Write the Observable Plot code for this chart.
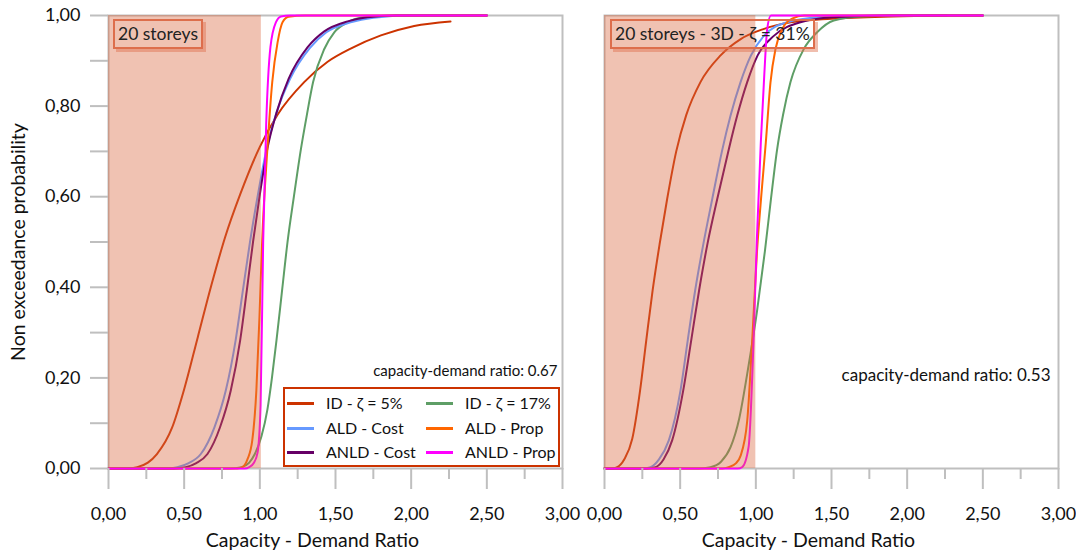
<!DOCTYPE html>
<html><head><meta charset="utf-8">
<script src="https://cdn.jsdelivr.net/npm/d3@7"></script>
<script src="https://cdn.jsdelivr.net/npm/@observablehq/plot@0.6"></script>
<style>
body{margin:0;background:#fff;font-family:Lato, sans-serif;}
#wrap{position:relative;width:1076px;height:553px;overflow:hidden;background:#fff;}
.panel{position:absolute;top:0;}
.tbox{position:absolute;border:2px solid #dd6e4c;box-shadow:3px 3px 0 rgba(221,110,76,0.45);font-size:17.5px;color:#222;padding:0 3px;line-height:25px;white-space:nowrap;box-sizing:border-box;height:30px;}
.legend{position:absolute;left:283px;top:387px;width:277px;height:80px;border:2px solid #cc3300;background:#fff;font-size:16px;color:#111;box-sizing:border-box;}
.li{position:absolute;white-space:nowrap;line-height:20px;}
.sw{display:inline-block;width:27px;height:3px;vertical-align:middle;margin-right:12px;position:relative;top:-1px;}
</style></head>
<body>
<div id="wrap"></div>
<script>
// ---- series ----
const seriesNames = ["ID - ζ = 5%", "ID - ζ = 17%", "ALD - Cost", "ALD - Prop", "ANLD - Cost", "ANLD - Prop"];
const seriesColors = ["#cc3300", "#5e9e66", "#6699ff", "#ff6600", "#660066", "#ff00ff"];
const drawOrder = ["ID - ζ = 5%", "ID - ζ = 17%", "ALD - Cost", "ANLD - Cost", "ALD - Prop", "ANLD - Prop"];

// ---- left panel: 20 storeys ----
const leftID5 = [[0,0],[0.12,0],[0.19,0.003],[0.26,0.013],[0.32,0.032],[0.42,0.09],[0.50,0.175],[0.59,0.29],[0.68,0.405],[0.77,0.51],[0.87,0.605],[1.0,0.71],[1.117,0.781],[1.293,0.853],[1.448,0.898],[1.60,0.927],[1.80,0.956],[2.02,0.977],[2.26,0.987]];
const leftID17 = [[0,0],[0.8,0],[0.88,0.003],[0.93,0.013],[0.967,0.032],[1.01,0.07],[1.05,0.13],[1.08,0.2],[1.11,0.283],[1.147,0.393],[1.183,0.5],[1.225,0.6],[1.272,0.706],[1.31,0.779],[1.352,0.853],[1.426,0.926],[1.492,0.963],[1.58,0.985],[1.69,0.996],[1.9,1],[2.5,1]];
const leftALDCost = [[0,0],[0.38,0],[0.455,0.003],[0.53,0.012],[0.61,0.032],[0.70,0.091],[0.775,0.172],[0.84,0.283],[0.888,0.393],[0.935,0.5],[0.985,0.6],[1.045,0.706],[1.11,0.785],[1.2,0.86],[1.33,0.928],[1.44,0.963],[1.6,0.985],[1.75,0.995],[2.0,1],[2.5,1]];
const leftANLDCost = [[0,0],[0.43,0],[0.51,0.003],[0.58,0.012],[0.654,0.032],[0.737,0.091],[0.808,0.172],[0.87,0.283],[0.914,0.393],[0.955,0.5],[0.998,0.6],[1.05,0.706],[1.11,0.785],[1.19,0.86],[1.316,0.93],[1.426,0.965],[1.58,0.987],[1.71,0.996],[1.9,1],[2.5,1]];
const leftALDProp = [[0,0],[0.85,0],[0.885,0.003],[0.918,0.02],[0.95,0.062],[0.977,0.172],[0.997,0.33],[1.015,0.5],[1.05,0.706],[1.082,0.853],[1.117,0.94],[1.15,0.985],[1.19,0.997],[1.3,1],[2.5,1]];
const leftANLDProp = [[0,0],[0.9,0],[0.93,0.003],[0.96,0.012],[0.985,0.035],[1.005,0.14],[1.022,0.5],[1.042,0.76],[1.07,0.93],[1.106,0.985],[1.14,0.998],[1.2,1],[2.5,1]];

// ---- right panel: 20 storeys - 3D ----
const rightID5 = [[0,0],[0.05,0],[0.084,0.003],[0.13,0.02],[0.183,0.065],[0.235,0.172],[0.276,0.283],[0.318,0.393],[0.364,0.495],[0.414,0.595],[0.474,0.7],[0.54,0.78],[0.634,0.853],[0.767,0.912],[0.90,0.948],[1.05,0.97],[1.23,0.985],[1.5,0.993],[1.9,0.998],[2.26,1]];
const rightID17 = [[0,0],[0.62,0],[0.70,0.003],[0.77,0.015],[0.833,0.047],[0.89,0.11],[0.943,0.209],[1.009,0.35],[1.06,0.48],[1.10,0.595],[1.14,0.703],[1.18,0.781],[1.229,0.853],[1.317,0.926],[1.405,0.963],[1.515,0.989],[1.7,0.998],[2.0,1],[2.5,1]];
const rightALDCost = [[0,0],[0.25,0],[0.304,0.003],[0.36,0.02],[0.425,0.062],[0.502,0.172],[0.55,0.283],[0.599,0.393],[0.654,0.497],[0.712,0.595],[0.776,0.7],[0.833,0.779],[0.899,0.853],[0.968,0.912],[1.053,0.955],[1.207,0.985],[1.42,0.996],[1.8,1],[2.5,1]];
const rightANLDCost = [[0,0],[0.28,0],[0.337,0.003],[0.39,0.02],[0.447,0.062],[0.52,0.172],[0.573,0.283],[0.625,0.393],[0.681,0.497],[0.745,0.595],[0.818,0.7],[0.877,0.779],[0.943,0.853],[1.012,0.912],[1.119,0.955],[1.295,0.985],[1.51,0.996],[1.9,1],[2.5,1]];
const rightALDProp = [[0,0],[0.78,0],[0.82,0.003],[0.87,0.012],[0.899,0.028],[0.943,0.105],[0.976,0.283],[1.008,0.48],[1.038,0.61],[1.066,0.72],[1.097,0.853],[1.13,0.926],[1.174,0.97],[1.24,0.993],[1.32,1],[2.5,1]];
const rightANLDProp = [[0,0],[0.88,0],[0.91,0.003],[0.952,0.047],[0.985,0.283],[1.006,0.5],[1.033,0.72],[1.056,0.87],[1.075,0.97],[1.10,1],[2.5,1]];

// ---- panel annotations ----
const panelTitles = ["20 storeys", "20 storeys - 3D - ζ = 31%"];
const capacityDemandRatio = [0.67, 0.53];
const shadeLimit = [1.01, 1.0];

// ---- ticks ----
const xMajor = [0, 0.5, 1, 1.5, 2, 2.5, 3];
const xMinor = [0.25, 0.75, 1.25, 1.75, 2.25, 2.75];
const yMajor = [0, 0.2, 0.4, 0.6, 0.8, 1];
const yMinor = [0.1, 0.3, 0.5, 0.7, 0.9];
const xLabel = "Capacity - Demand Ratio";
const yLabel = "Non exceedance probability";

const comma = d => d.toFixed(2).replace(".", ",");

function table(seriesData) {
  const rows = [];
  drawOrder.forEach(name => {
    seriesData[name].forEach(([x, p]) => rows.push({series: name, x, p}));
  });
  return rows;
}
const leftData = table({
  "ID - ζ = 5%": leftID5, "ID - ζ = 17%": leftID17, "ALD - Cost": leftALDCost,
  "ALD - Prop": leftALDProp, "ANLD - Cost": leftANLDCost, "ANLD - Prop": leftANLDProp
});
const rightData = table({
  "ID - ζ = 5%": rightID5, "ID - ζ = 17%": rightID17, "ALD - Cost": rightALDCost,
  "ALD - Prop": rightALDProp, "ANLD - Cost": rightANLDCost, "ANLD - Prop": rightANLDProp
});

function panel(data, i, showY) {
  const marks = [
    Plot.frame({stroke: "#bfbfbf", strokeWidth: 2}),
    Plot.line(data, {x: "x", y: "p", z: "series", stroke: "series", strokeWidth: 2, curve: "monotone-x"}),
    Plot.rect([{x1: 0, x2: shadeLimit[i], y1: 0, y2: 1}], {x1: "x1", x2: "x2", y1: "y1", y2: "y2", fill: "#d9663f", fillOpacity: 0.4}),
    Plot.axisX({ticks: xMinor, tickSize: 11, text: null, stroke: "#bfbfbf", strokeWidth: 2, label: null}),
    Plot.axisX({ticks: xMajor, tickSize: 21, tickPadding: 18, tickFormat: comma, stroke: "#bfbfbf", strokeWidth: 2, fill: "#111", fontSize: 18, label: null}),
    Plot.text([xLabel], {text: d => d, frameAnchor: "bottom", textAnchor: "middle", dx: -23, dy: 72, lineAnchor: "middle", fontSize: 19.5, fill: "#111"}),
    Plot.text([`capacity-demand ratio: ${capacityDemandRatio[i]}`], {text: d => d, frameAnchor: "bottom-right", textAnchor: "end", lineAnchor: "middle", dx: i === 0 ? -5 : -8, dy: i === 0 ? -97 : -93, fontSize: i === 0 ? 15 : 17, fill: "#111"})
  ];
  if (showY) {
    marks.push(
      Plot.axisY({ticks: yMinor, tickSize: 18, text: null, stroke: "#bfbfbf", strokeWidth: 2, label: null}),
      Plot.axisY({ticks: yMajor, tickSize: 18, tickPadding: 10, tickFormat: comma, stroke: "#bfbfbf", strokeWidth: 2, fill: "#111", fontSize: 18, label: null}),
      Plot.text([yLabel], {text: d => d, frameAnchor: "left", rotate: -90, textAnchor: "middle", dx: -90, lineAnchor: "middle", fontSize: 19.5, fill: "#111"})
    );
  } else {
    marks.push(Plot.axisY({ticks: [], label: null}));
  }
  return Plot.plot({
    width: 580, height: 553,
    marginLeft: 108, marginRight: 18, marginTop: 15, marginBottom: 85,
    x: {domain: [0, 3]},
    y: {domain: [0, 1]},
    color: {domain: seriesNames, range: seriesColors},
    style: {fontFamily: "Lato, sans-serif", fontSize: "18px", background: "transparent", overflow: "visible"},
    marks
  });
}

const wrap = document.getElementById("wrap");
const p1 = panel(leftData, 0, true);
p1.classList.add("panel"); p1.style.left = "0px";
const p2 = panel(rightData, 1, false);
p2.classList.add("panel"); p2.style.left = "496px";
wrap.appendChild(p1);
wrap.appendChild(p2);

// title boxes
const t1 = document.createElement("div");
t1.className = "tbox"; t1.style.left = "113px"; t1.style.top = "19px"; t1.textContent = panelTitles[0];
const t2 = document.createElement("div");
t2.className = "tbox"; t2.style.left = "610px"; t2.style.top = "19px"; t2.textContent = panelTitles[1];
wrap.appendChild(t1); wrap.appendChild(t2);

// legend
const lg = document.createElement("div");
lg.className = "legend";
const legendOrder = ["ID - ζ = 5%", "ID - ζ = 17%", "ALD - Cost", "ALD - Prop", "ANLD - Cost", "ANLD - Prop"];
legendOrder.forEach((name, k) => {
  const col = k % 2, row = Math.floor(k / 2);
  const it = document.createElement("div");
  it.className = "li";
  it.style.left = (col === 0 ? 2 : 141) + "px";
  it.style.top = (4 + row * 24.5) + "px";
  const sw = document.createElement("span");
  sw.className = "sw";
  sw.style.background = seriesColors[seriesNames.indexOf(name)];
  it.appendChild(sw);
  it.appendChild(document.createTextNode(name));
  lg.appendChild(it);
});
wrap.appendChild(lg);
</script>
</body></html>
